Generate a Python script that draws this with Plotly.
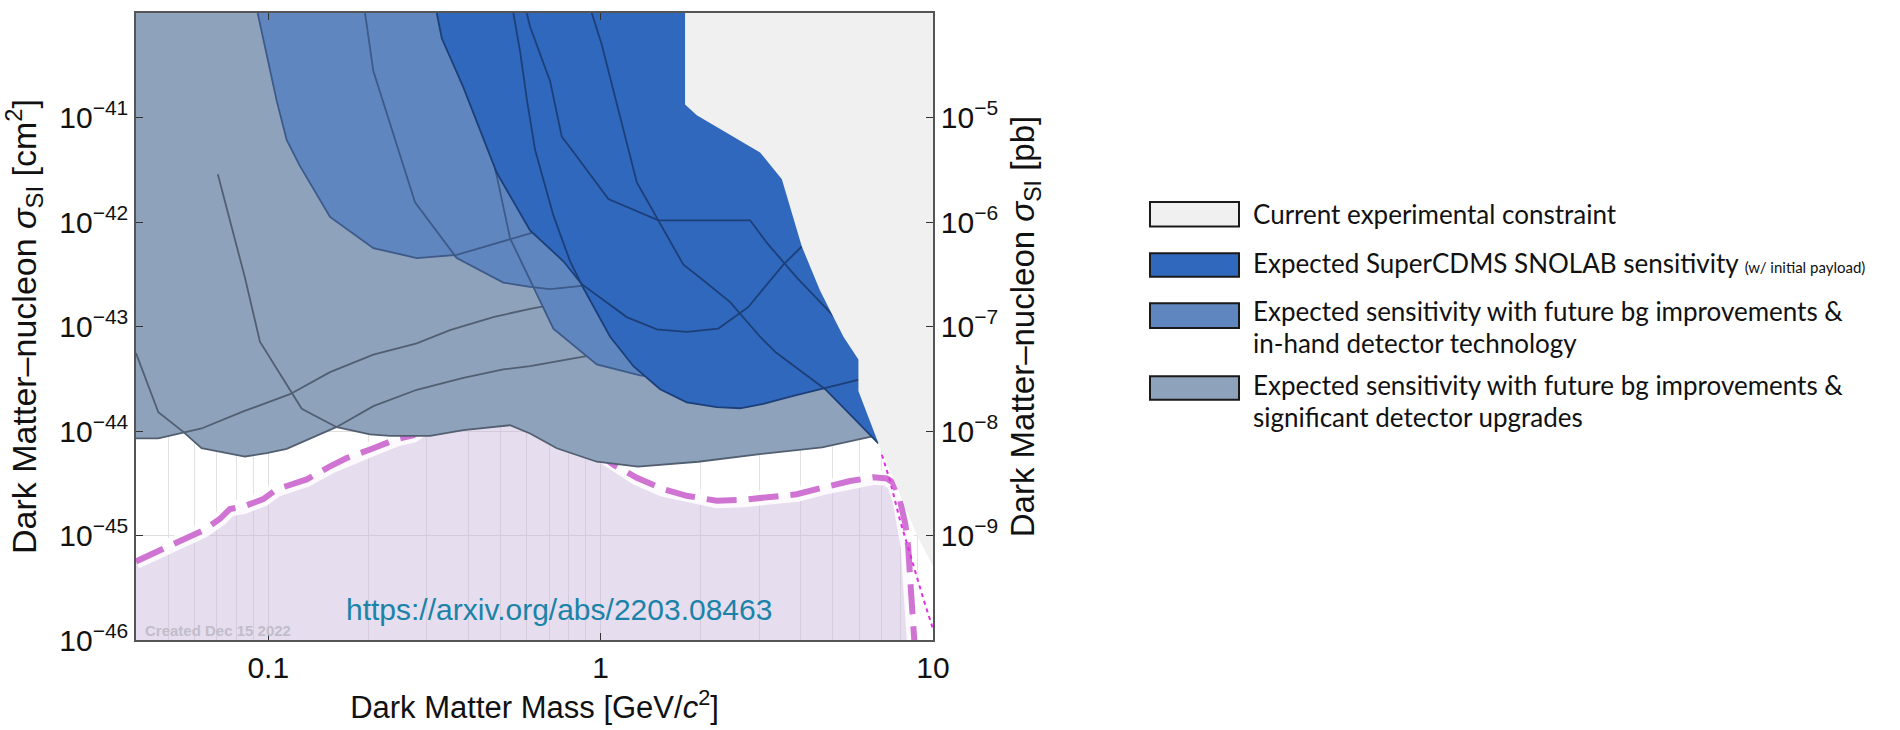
import plotly.graph_objects as go

# ---------------------------------------------------------------
# Spin-independent WIMP-nucleon sensitivity, SuperCDMS SNOLAB
# mass in GeV/c^2, cross section in cm^2 (right axis in pb)
# ---------------------------------------------------------------
MASS_MIN, MASS_MAX = 0.04, 10.0
XSEC_MIN, XSEC_MAX = 1e-46, 1e-40
CM2_PER_PB = 1e-36

# closure points beyond the visible window for filled regions
M_LO, M_HI = 0.03, 12.0
S_LO, S_HI = 1e-47, 1e-39

# Current experimental constraint (lower edge of excluded region)
constraint_mass = [1.795, 1.795, 1.947, 2.316, 3.018, 3.51, 4.03, 4.575, 5.377,
                   5.965, 5.965, 6.85, 8.96, 10.0]
constraint_xsec = [1e-40, 1.33e-41, 1.05e-41, 7.58e-42, 4.63e-42, 2.56e-42, 5.83e-43,
                   2.20e-43, 7.98e-44, 4.82e-44, 2.42e-44, 7.62e-45, 1.0e-45, 5.1e-46]

# Neutrino fog (Ge, dashed) and (Si, dotted)
fog_mass = [0.04, 0.0472, 0.0543, 0.0637, 0.0716, 0.0767, 0.0841, 0.0966, 0.106,
            0.1136, 0.1305, 0.1534, 0.1722, 0.2071, 0.2434, 0.2733, 0.31, 0.40, 0.50,
            0.68, 0.898, 1.092, 1.285, 1.545, 1.816, 2.236, 2.689, 3.235, 3.893,
            4.68, 5.63, 6.62, 7.26, 7.64, 7.96, 8.25, 8.42, 8.54, 8.66, 8.77, 8.83]
fog_xsec = [5.65e-46, 7.18e-46, 8.73e-46, 1.12e-45, 1.445e-45, 1.795e-45, 1.89e-45,
            2.23e-45, 2.77e-45, 2.98e-45, 3.44e-45, 4.59e-45, 5.51e-45, 6.84e-45,
            8.38e-45, 9.12e-45, 1.25e-44, 1.5e-44, 1.6e-44, 1.4e-44, 7.5e-45, 4.77e-45,
            3.57e-45, 2.77e-45, 2.40e-45, 2.15e-45, 2.20e-45, 2.31e-45, 2.48e-45,
            2.88e-45, 3.32e-45, 3.60e-45, 3.52e-45, 3.16e-45, 2.15e-45, 1.30e-45,
            7.83e-46, 3.79e-46, 1.85e-46, 1.0e-46, 7.8e-47]
fog_si_mass = [7.02, 7.43, 7.96, 8.73, 9.36, 10.03]
fog_si_xsec = [5.92e-45, 3.32e-45, 1.39e-45, 5.07e-46, 2.46e-46, 1.24e-46]

# Future bg improvements & significant detector upgrades
upg_a_mass = [0.04, 0.0467, 0.0555, 0.0630, 0.0851, 0.0989, 0.1136, 0.1305, 0.1607,
              0.2071, 0.2798, 0.3864, 0.5097, 0.6134, 0.9085, 0.969]
upg_a_xsec = [5.56e-44, 1.51e-44, 9.82e-45, 6.84e-45, 5.70e-45, 6.14e-45, 6.74e-45,
              8.19e-45, 1.094e-44, 1.73e-44, 2.48e-44, 3.23e-44, 3.88e-44, 4.17e-44,
              5.18e-44, 5.41e-44]
upg_b_mass = [0.04, 0.0467, 0.0630, 0.0841, 0.1162, 0.1534, 0.2071, 0.2798, 0.352,
              0.4753, 0.6134, 0.7044]
upg_b_xsec = [8.49e-45, 8.49e-45, 1.057e-44, 1.54e-44, 2.25e-44, 3.66e-44, 5.37e-44,
              6.90e-44, 9.23e-44, 1.23e-43, 1.476e-43, 1.60e-43]
upg_c_mass = [0.0705, 0.0851, 0.0944, 0.1261, 0.1607, 0.2024, 0.2325, 0.3067, 0.3864,
              0.534, 0.6134, 0.738, 0.9736, 1.296, 1.965, 3.054, 4.64, 5.505, 6.47, 6.93]
upg_c_xsec = [2.86e-42, 2.93e-43, 7.16e-44, 1.63e-44, 1.087e-44, 9.27e-45, 8.99e-45,
              8.99e-45, 1.019e-44, 1.135e-44, 9.46e-45, 6.84e-45, 5.08e-45, 4.56e-45,
              5.08e-45, 6.05e-45, 6.97e-45, 7.88e-45, 8.79e-45, 8.93e-45]
upg_floor_mass = [0.04, 0.0467, 0.0558, 0.0630, 0.0851, 0.0989, 0.1136, 0.1305, 0.1607,
                  0.2024, 0.2325, 0.3067, 0.3864, 0.534, 0.6134, 0.738, 0.9736, 1.296,
                  1.965, 3.054, 4.64, 5.505, 6.47, 6.93]
upg_floor_xsec = [8.49e-45, 8.49e-45, 9.7e-45, 6.84e-45, 5.70e-45, 6.14e-45, 6.74e-45,
                  8.19e-45, 1.09e-44, 9.27e-45, 8.99e-45, 8.99e-45, 1.019e-44, 1.135e-44,
                  9.46e-45, 6.84e-45, 5.08e-45, 4.56e-45, 5.08e-45, 6.05e-45, 6.97e-45,
                  7.88e-45, 8.79e-45, 8.93e-45]

# Future bg improvements & in-hand detector technology
inh_a_mass = [0.0929, 0.0966, 0.106, 0.1136, 0.1246, 0.1534, 0.2071, 0.2798, 0.369,
              0.6134, 0.7044]
inh_a_xsec = [1e-40, 5.73e-41, 1.45e-41, 6.10e-42, 3.42e-42, 1.117e-42, 5.62e-43,
              4.52e-43, 4.85e-43, 7.78e-43, 8.67e-43]
inh_b_mass = [0.1955, 0.2071, 0.2764, 0.369, 0.5097, 0.6134, 0.7044, 0.8776, 0.962]
inh_b_xsec = [1e-40, 2.78e-41, 1.545e-42, 4.52e-43, 2.63e-43, 2.40e-43, 2.28e-43,
              2.45e-43, 2.46e-43]
inh_c_mass = [0.4745, 0.487, 0.534, 0.6273, 0.7208, 0.9736, 1.314, 1.458]
inh_c_xsec = [3.95e-42, 2.75e-42, 6.98e-43, 2.36e-43, 9.55e-44, 4.33e-44, 3.40e-44,
              3.28e-44]
inh_floor_mass = [0.0929, 0.0966, 0.106, 0.1136, 0.1246, 0.1534, 0.2071, 0.2798, 0.357,
                  0.369, 0.5097, 0.6134, 0.635, 0.7208, 0.9736, 1.314, 1.458]
inh_floor_xsec = [1e-40, 5.73e-41, 1.45e-41, 6.10e-42, 3.42e-42, 1.117e-42, 5.62e-43,
                  4.52e-43, 4.72e-43, 4.52e-43, 2.63e-43, 2.40e-43, 2.33e-43, 9.55e-44,
                  4.33e-44, 3.40e-44, 3.28e-44]

# Expected SuperCDMS SNOLAB sensitivity (initial payload)
snl_a_mass = [0.3213, 0.3327, 0.3864, 0.487, 0.6134, 0.7725, 0.8776, 1.198, 1.476,
              1.816, 2.261, 2.778, 3.547, 4.03, 4.42]
snl_a_xsec = [1e-40, 5.73e-41, 1.94e-41, 2.96e-42, 8.3e-43, 4.21e-43, 2.54e-43,
              1.23e-43, 9.39e-44, 8.89e-44, 9.55e-44, 1.53e-43, 3.91e-43, 5.83e-43,
              7.6e-43]
snl_b_mass = [0.5463, 0.5723, 0.6006, 0.635, 0.7208, 0.809, 0.8855, 1.068, 1.255, 1.51,
              1.816, 2.236, 2.628, 3.088, 3.80, 4.74, 5.965, 6.25]
snl_b_xsec = [1e-40, 4.30e-41, 1.45e-41, 4.91e-42, 1.156e-42, 4.21e-43, 2.36e-43,
              7.98e-44, 4.17e-44, 2.51e-44, 1.88e-44, 1.69e-44, 1.65e-44, 1.82e-44,
              2.17e-44, 2.58e-44, 3.08e-44, 3.21e-44]
snl_c_mass = [0.5993, 0.6134, 0.7044, 0.764, 0.8187, 1.055, 1.492, 2.817, 3.17, 3.589,
              3.893, 4.845, 5.256]
snl_c_xsec = [1e-40, 7.38e-41, 2.24e-41, 6.55e-42, 4.91e-42, 1.66e-42, 1.038e-42,
              1.038e-42, 6.27e-43, 3.91e-43, 2.93e-43, 1.42e-43, 1.08e-43]
snl_d_mass = [0.9404, 1.008, 1.285, 1.492, 1.774, 1.992, 2.453, 3.018, 3.37, 4.74, 6.85]
snl_d_xsec = [1e-40, 4.97e-41, 2.39e-42, 1.038e-42, 3.91e-43, 2.93e-43, 1.71e-43,
              7.98e-44, 5.63e-44, 2.51e-44, 7.62e-45]
snl_floor_mass = [0.3213, 0.3327, 0.3864, 0.487, 0.6134, 0.7725, 0.88, 1.068, 1.255,
                  1.51, 1.816, 2.236, 2.628, 3.088, 3.80, 4.74, 6.85]
snl_floor_xsec = [1e-40, 5.73e-41, 1.94e-41, 2.96e-42, 8.3e-43, 4.21e-43, 2.48e-43,
                  7.98e-44, 4.17e-44, 2.51e-44, 1.88e-44, 1.69e-44, 1.65e-44, 1.82e-44,
                  2.17e-44, 2.55e-44, 7.62e-45]

# Axis ticks
x_tickvals = [0.1, 1, 10]
x_ticktext = ["0.1", "1", "10"]
y_exponents = [-46, -45, -44, -43, -42, -41]
y2_exponents = [-9, -8, -7, -6, -5]

# Legend entries
legend_labels = [
    ["Current experimental constraint"],
    ["Expected SuperCDMS SNOLAB sensitivity "
     "<span style='font-size:15px'>(w/ initial payload)</span>"],
    ["Expected sensitivity with future bg improvements &", "in-hand detector technology"],
    ["Expected sensitivity with future bg improvements &", "significant detector upgrades"],
]

# Colours
C_CONSTRAINT = "#f0f0f0"
C_SNOLAB = "#3068be"
C_INHAND = "#6086c0"
C_UPGRADE = "#8ea2bc"
C_FOG_FILL = "rgba(195,175,218,0.42)"
C_FOG_LINE = "#d074d4"
C_FOG_SI = "#e32ee3"
C_LINE_UPG = "#525f71"
C_LINE_INH = "#3d5a88"
C_LINE_SNL = "#1d3f78"
legend_fills = [C_CONSTRAINT, C_SNOLAB, C_INHAND, C_UPGRADE]

FONT = "Liberation Sans, Arial, Helvetica, sans-serif"
LEGEND_FONT = "Lato, Open Sans, sans-serif"


def region(mass, xsec, top_left, right_edge, color):
    """Closed polygon: boundary curve, then closed through the top of the frame."""
    xs = [top_left[0]] + list(mass) + [right_edge[0], right_edge[0], top_left[0]]
    ys = [top_left[1]] + list(xsec) + [right_edge[1], S_HI, S_HI]
    return go.Scatter(x=xs, y=ys, mode="lines", fill="toself", fillcolor=color,
                      line=dict(width=0), hoverinfo="skip", showlegend=False)


def curve(mass, xsec, color, width=1.8, dash=None):
    return go.Scatter(x=mass, y=xsec, mode="lines",
                      line=dict(color=color, width=width, dash=dash, shape="linear"),
                      hoverinfo="skip", showlegend=False)


fig = go.Figure()

# neutrino fog region
fig.add_trace(go.Scatter(
    x=[M_LO] + fog_mass + [fog_mass[-1], M_LO],
    y=[fog_xsec[0]] + fog_xsec + [S_LO, S_LO],
    mode="lines", fill="toself", fillcolor=C_FOG_FILL, line=dict(width=0),
    hoverinfo="skip", showlegend=False))
fig.add_trace(curve(fog_mass, fog_xsec, "rgba(255,255,255,0.85)", width=15))
fig.add_trace(curve(fog_mass, fog_xsec, C_FOG_LINE, width=6, dash="30px,12px"))
fig.add_trace(curve(fog_si_mass, fog_si_xsec, C_FOG_SI, width=2, dash="4px,4px"))

# significant detector upgrades
fig.add_trace(region(upg_floor_mass, upg_floor_xsec, (M_LO, upg_floor_xsec[0]),
                     (M_HI, upg_floor_xsec[-1]), C_UPGRADE))
for m, s in [(upg_a_mass, upg_a_xsec), (upg_b_mass, upg_b_xsec), (upg_c_mass, upg_c_xsec)]:
    fig.add_trace(curve(m, s, C_LINE_UPG))

# in-hand detector technology
fig.add_trace(region(inh_floor_mass, inh_floor_xsec, (inh_floor_mass[0], S_HI),
                     (inh_floor_mass[-1], inh_floor_xsec[-1]), C_INHAND))
for m, s in [(inh_a_mass, inh_a_xsec), (inh_b_mass, inh_b_xsec), (inh_c_mass, inh_c_xsec)]:
    fig.add_trace(curve(m, s, C_LINE_INH))

# SuperCDMS SNOLAB initial payload
fig.add_trace(region(snl_floor_mass, snl_floor_xsec, (snl_floor_mass[0], S_HI),
                     (M_HI, snl_floor_xsec[-1]), C_SNOLAB))
for m, s in [(snl_a_mass, snl_a_xsec), (snl_b_mass, snl_b_xsec),
             (snl_c_mass, snl_c_xsec), (snl_d_mass, snl_d_xsec)]:
    fig.add_trace(curve(m, s, C_LINE_SNL))

# current experimental constraint (drawn on top)
fig.add_trace(region(constraint_mass, constraint_xsec, (constraint_mass[0], S_HI),
                     (M_HI, constraint_xsec[-1]), C_CONSTRAINT))

# right-hand axis in pb (same scale, shifted by 1e-36)
fig.add_trace(go.Scatter(x=[MASS_MIN, MASS_MAX],
                         y=[XSEC_MIN / CM2_PER_PB, XSEC_MAX / CM2_PER_PB],
                         yaxis="y2", mode="lines", line=dict(width=0, color="rgba(0,0,0,0)"),
                         hoverinfo="skip", showlegend=False))

# ---------------- layout -----------------
W, H = 1900, 730
L, R, T, B = 136, 967, 11, 82
PW, PH = W - L - R, H - T - B


def px_x(X):
    return (X - L) / PW


def px_y(Y):
    return (H - B - Y) / PH


axis_common = dict(showline=True, linecolor="#555", linewidth=1.5, ticks="inside",
                   ticklen=7, tickwidth=1.3, tickcolor="#333",
                   tickfont=dict(family=FONT, size=30, color="#111"))

fig.update_layout(
    width=W, height=H,
    margin=dict(l=L, r=R, t=T, b=B),
    paper_bgcolor="white", plot_bgcolor="white",
    font=dict(family=FONT, color="#111"),
    showlegend=False,
    xaxis=dict(type="log", range=[-1.39794, 1.0], tickmode="array",
               tickvals=x_tickvals, ticktext=x_ticktext, mirror="ticks",
               showgrid=True, gridcolor="#dedede", gridwidth=1,
               minor=dict(dtick="D1", showgrid=True, gridcolor="#e2e2e2", gridwidth=1),
               title=dict(text="Dark Matter Mass [GeV/<i>c</i><sup>2</sup>]",
                          font=dict(family=FONT, size=31, color="#111"), standoff=14),
               zeroline=False, **axis_common),
    yaxis=dict(type="log", range=[-46, -40], tickmode="array",
               tickvals=[10.0 ** e for e in y_exponents],
               ticktext=["10<sup>\u2212%d</sup>" % -e for e in y_exponents],
               showgrid=True, gridcolor="#dedede", gridwidth=1,
               title=dict(text="Dark Matter\u2013nucleon <i>\u03c3</i><sub>SI</sub> "
                               "[cm<sup>2</sup>]",
                          font=dict(family=FONT, size=34, color="#111"), standoff=12),
               zeroline=False, **axis_common),
    yaxis2=dict(type="log", overlaying="y", side="right",
                range=[-46 + 36, -40 + 36], tickmode="array",
                tickvals=[10.0 ** e for e in y2_exponents],
                ticktext=["10<sup>\u2212%d</sup>" % -e for e in y2_exponents],
                showgrid=False,
                title=dict(text="Dark Matter\u2013nucleon <i>\u03c3</i><sub>SI</sub> [pb]",
                           font=dict(family=FONT, size=33, color="#111"), standoff=14),
                zeroline=False, **axis_common),
)

# in-plot texts
fig.add_annotation(x=-0.125, y=-45.706, xref="x", yref="y",
                   text="https://arxiv.org/abs/2203.08463", showarrow=False,
                   font=dict(family=FONT, size=30, color="#1b83a8"))
fig.add_annotation(x=-1.377, y=-45.913, xref="x", yref="y", xanchor="left",
                   text="<b>Created Dec 15 2022</b>", showarrow=False,
                   font=dict(family=FONT, size=15, color="#c2bdca"))

# legend drawn beside the frame
box_rows = [(203, 228), (255, 279), (306, 331), (380, 404)]
line_centres = [[215], [265], [314, 346], [389, 421]]
for fillc, (y0, y1), labels, centres in zip(legend_fills, box_rows, legend_labels,
                                             line_centres):
    fig.add_shape(type="rect", xref="paper", yref="paper",
                  x0=px_x(1150), x1=px_x(1239), y0=px_y(y1), y1=px_y(y0),
                  fillcolor=fillc, line=dict(color="#1a1a1a", width=2))
    for text, yc in zip(labels, centres):
        fig.add_annotation(xref="paper", yref="paper", x=px_x(1251), y=px_y(yc),
                           xanchor="left", yanchor="middle", text=text, showarrow=False,
                           font=dict(family=LEGEND_FONT, size=26, color="#111"))

fig.write_html("out.html")
